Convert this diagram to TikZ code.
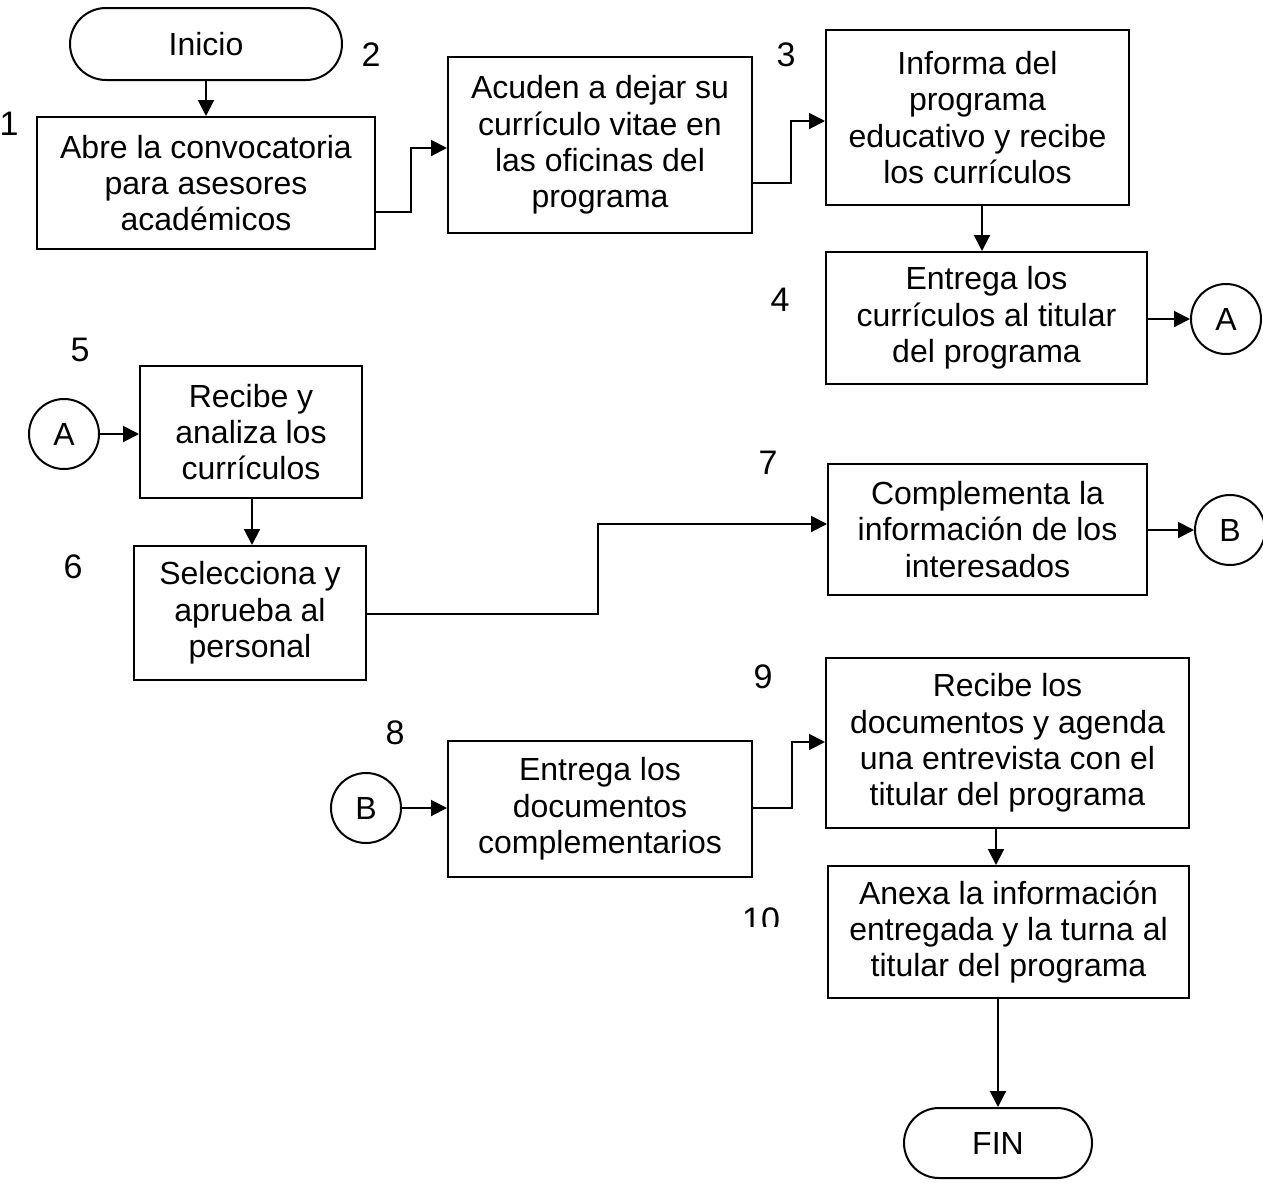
\documentclass[tikz,border=0pt]{standalone}
\usepackage{fontspec}
\setmainfont{Liberation Sans}
\usetikzlibrary{arrows.meta,shapes.misc}
\begin{document}
\begin{tikzpicture}[x=0.5pt,y=-0.5pt,
  every node/.style={font=\fontsize{16}{18.2}\selectfont},
  box/.style={draw,line width=1pt,align=center,inner sep=0pt},
  term/.style={draw,line width=1pt,rounded rectangle,inner sep=0pt},
  conn/.style={draw,line width=1pt,circle,inner sep=0pt,minimum size=35pt},
  num/.style={inner sep=0pt,font=\fontsize{17}{18}\selectfont},
  arr/.style={line width=1pt,-{Triangle[length=8pt,width=8pt]}}]
\useasboundingbox (0,0) rectangle (1263,1184);
\fill[white] (0,0) rectangle (1263,1184);

% terminals
\node[term,minimum width=136pt,minimum height=36pt] (ini) at (206,44) {Inicio};
\node[term,minimum width=94pt,minimum height=35pt] (fin) at (998,1143) {FIN};

% process boxes
\node[box,minimum width=169pt,minimum height=66pt] (b1) at (206,183)
  {Abre la convocatoria\\para asesores\\académicos};
\node[box,minimum width=152pt,minimum height=88pt] (b2) at (600,145)
  {Acuden a dejar su\\currículo vitae en\\las oficinas del\\programa};
\node[box,minimum width=151.5pt,minimum height=87.5pt] (b3) at (977.5,117.5)
  {Informa del\\programa\\educativo y recibe\\los currículos};
\node[box,minimum width=160.5pt,minimum height=66pt] (b4) at (986.5,318)
  {Entrega los\\currículos al titular\\del programa};
\node[box,minimum width=111pt,minimum height=66pt] (b5) at (251,432)
  {Recibe y\\analiza los\\currículos};
\node[box,minimum width=116pt,minimum height=67pt] (b6) at (250,613)
  {Selecciona y\\aprueba al\\personal};
\node[box,minimum width=159.5pt,minimum height=65.5pt] (b7) at (987.5,529.5)
  {Complementa la\\información de los\\interesados};
\node[box,minimum width=152pt,minimum height=68pt] (b8) at (600,809)
  {Entrega los\\documentos\\complementarios};
\node[box,minimum width=181.5pt,minimum height=85pt] (b9) at (1007.5,743)
  {Recibe los\\documentos y agenda\\una entrevista con el\\titular del programa};
\node[box,minimum width=180.5pt,minimum height=66pt] (b10) at (1008.5,932)
  {Anexa la información\\entregada y la turna al\\titular del programa};

% off-page connectors
\node[conn] (a1) at (1226,319) {A};
\node[conn] (a2) at (64,434) {A};
\node[conn] (bb1) at (1230,530) {B};
\node[conn] (bb2) at (366,808) {B};

% step numbers
\node[num] (n1) at (9,124) {1};
\node[num] (n2) at (371,55) {2};
\node[num] (n3) at (786,55) {3};
\node[num] (n4) at (780,300) {4};
\node[num] (n5) at (80,350) {5};
\node[num] (n6) at (73,567) {6};
\node[num] (n7) at (768,463) {7};
\node[num] (n8) at (395,733) {8};
\node[num] (n9) at (763,677) {9};
\begin{scope}
  \clip (700,880) rectangle (815,926);
  \node[num] (n10) at (761,920) {10};
\end{scope}

% flow lines
\draw[arr] (ini.south) -- (b1.north -| ini.south);
\draw[arr] (b1.east |- 0,212) -| (411,180) |- (b2.west |- 0,148);
\draw[arr] (b2.east |- 0,183) -| (791,150) |- (b3.west |- 0,121);
\draw[arr] (b3.south -| 982,0) -- (b4.north -| 982,0);
\draw[arr] (b4.east |- a1.west) -- (a1.west);
\draw[arr] (a2.east) -- (b5.west |- a2.east);
\draw[arr] (b5.south -| 252,0) -- (b6.north -| 252,0);
\draw[arr] (b6.east |- 0,614) -| (598,560) |- (b7.west |- 0,524);
\draw[arr] (b7.east |- bb1.west) -- (bb1.west);
\draw[arr] (bb2.east) -- (b8.west |- bb2.east);
\draw[arr] (b8.east |- 0,808) -| (792,780) |- (b9.west |- 0,742);
\draw[arr] (b9.south -| 996,0) -- (b10.north -| 996,0);
\draw[arr] (b10.south -| 998,0) -- (fin.north -| 998,0);
\end{tikzpicture}
\end{document}
